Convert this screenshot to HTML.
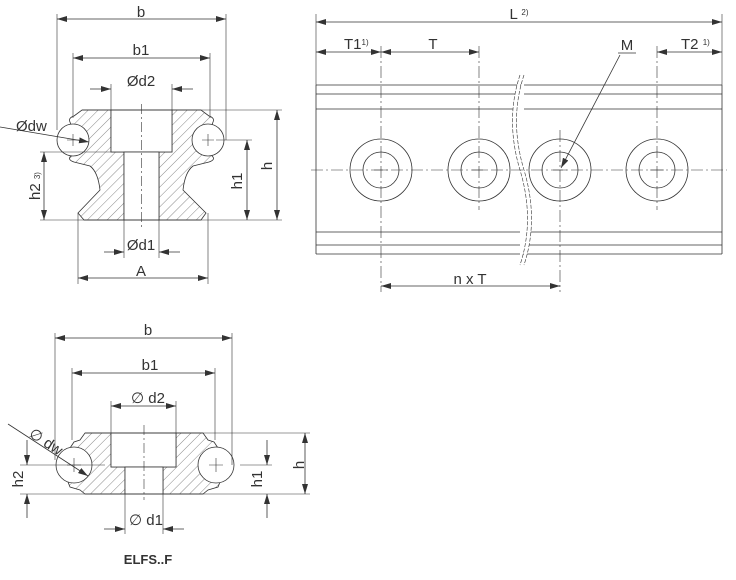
<!DOCTYPE html>
<html><head><meta charset="utf-8"><style>
html,body{margin:0;padding:0;background:#fff}
svg{display:block}
text{font-family:"Liberation Sans",sans-serif;fill:#333}
</style></head><body>
<svg width="736" height="580" viewBox="0 0 736 580" xmlns="http://www.w3.org/2000/svg">
<defs>
<pattern id="h" patternUnits="userSpaceOnUse" width="7" height="7" patternTransform="rotate(45)">
<line x1="0" y1="0" x2="0" y2="7" stroke="#555" stroke-width="0.7"/>
</pattern>
<marker id="a" viewBox="0 0 10 6" refX="10" refY="3" markerWidth="10" markerHeight="6" orient="auto-start-reverse" markerUnits="userSpaceOnUse">
<path d="M0,0 L10,3 L0,6 z" fill="#333"/>
</marker>
</defs>
<g stroke="#333" stroke-width="0.8" fill="none">
<path d="M82,110 L111,110 L111,152 L124,152 L124,220 L84,220 L78,213 L100,190 Q98,172 90,166 L74,162 Q68,160 70,157 L76,150 L72,128 L70,122 Q68,118 74,116 Z" fill="url(#h)"/>
<path d="M201,110 L172,110 L172,152 L159,152 L159,220 L201,220 L206,213 L183,190 Q185,172 193,166 L209,162 Q215,160 213,157 L207,150 L211,128 L213,122 Q215,118 209,116 Z" fill="url(#h)"/>
<rect x="111" y="110" width="61" height="42" fill="#fff"/>
<rect x="124" y="152" width="35" height="68" fill="#fff"/>
<line x1="82" y1="110" x2="201" y2="110"/>
<line x1="84" y1="220" x2="201" y2="220"/>
<circle cx="73" cy="140" r="16" fill="#fff"/>
<circle cx="208" cy="140" r="16" fill="#fff"/>
<path d="M67,140 h12 M73,134 v12 M202,140 h12 M208,134 v12" stroke-width="0.6"/>
<line x1="141.5" y1="104" x2="141.5" y2="228" stroke-dasharray="10,3,2,3" stroke-width="0.6"/>
<path d="M57,14 V130 M226,14 V140 M73,53 V118 M210,53 V118 M111,84 V110 M172,84 V110" stroke-width="0.6"/>
<line x1="57" y1="19" x2="226" y2="19" marker-start="url(#a)" marker-end="url(#a)"/>
<line x1="73" y1="58" x2="210" y2="58" marker-start="url(#a)" marker-end="url(#a)"/>
<line x1="90" y1="89" x2="111" y2="89" marker-end="url(#a)"/>
<line x1="193" y1="89" x2="172" y2="89" marker-end="url(#a)"/>
<path d="M201,110 H282 M216,140 H252 M40,152 H111 M201,220 H282 M40,220 H84" stroke-width="0.6"/>
<line x1="277" y1="110" x2="277" y2="220" marker-start="url(#a)" marker-end="url(#a)"/>
<line x1="247" y1="140" x2="247" y2="220" marker-start="url(#a)" marker-end="url(#a)"/>
<line x1="44" y1="152" x2="44" y2="220" marker-start="url(#a)" marker-end="url(#a)"/>
<path d="M124,220 V258 M159,220 V258 M78,213 V284 M208,213 V284" stroke-width="0.6"/>
<line x1="104" y1="252" x2="124" y2="252" marker-end="url(#a)"/>
<line x1="180" y1="252" x2="159" y2="252" marker-end="url(#a)"/>
<line x1="78" y1="278" x2="208" y2="278" marker-start="url(#a)" marker-end="url(#a)"/>
<line x1="0" y1="127" x2="89" y2="142" marker-end="url(#a)"/>

<path d="M316,85 H722 M316,94 H722 M316,109 H722 M316,232 H722 M316,245 H722 M316,254 H722 M316,85 V254 M722,85 V254"/>
<line x1="311" y1="170" x2="727" y2="170" stroke-dasharray="12,3,2,3" stroke-width="0.6"/>
<g>
<circle cx="381" cy="170" r="31"/><circle cx="381" cy="170" r="18"/>
<circle cx="479" cy="170" r="31"/><circle cx="479" cy="170" r="18"/>
<circle cx="560" cy="170" r="31"/><circle cx="560" cy="170" r="18"/>
<circle cx="657" cy="170" r="31"/><circle cx="657" cy="170" r="18"/>
</g>
<path d="M374,170 h14 M472,170 h14 M553,170 h14 M650,170 h14" stroke-width="0.6"/>
<g stroke-width="0.6" stroke-dasharray="12,3,2,3">
<line x1="381" y1="46" x2="381" y2="292"/>
<line x1="479" y1="46" x2="479" y2="210"/>
<line x1="560" y1="130" x2="560" y2="292"/>
<line x1="657" y1="46" x2="657" y2="210"/>
</g>
<path d="M316,14 V85 M722,14 V85" stroke-width="0.6"/>
<line x1="316" y1="22" x2="722" y2="22" marker-start="url(#a)" marker-end="url(#a)"/>
<line x1="316" y1="52" x2="381" y2="52" marker-start="url(#a)" marker-end="url(#a)"/>
<line x1="381" y1="52" x2="479" y2="52" marker-start="url(#a)" marker-end="url(#a)"/>
<line x1="657" y1="52" x2="722" y2="52" marker-start="url(#a)" marker-end="url(#a)"/>
<line x1="381" y1="286" x2="560" y2="286" marker-start="url(#a)" marker-end="url(#a)"/>
<path d="M618,53 H636" stroke-width="0.8"/>
<line x1="620" y1="55" x2="561" y2="168" marker-end="url(#a)"/>
<path d="M520,75 Q505,120 520,170 Q535,220 520,265 M524,75 Q509,120 524,170 Q539,220 524,265" stroke-width="0.6" stroke-dasharray="4,1.5" fill="#fff"/>

<path d="M85,433 L111,433 L111,467 L125,467 L125,494 L85,494 L80,490 L70,487 L68,482 L72,475 L72,456 L70,448 L74,442 L80,440 Z" fill="url(#h)"/>
<path d="M203,433 L176,433 L176,467 L163,467 L163,494 L203,494 L208,490 L218,487 L220,482 L216,475 L216,456 L218,448 L214,442 L208,440 Z" fill="url(#h)"/>
<rect x="111" y="433" width="65" height="34" fill="#fff"/>
<rect x="125" y="467" width="38" height="27" fill="#fff"/>
<line x1="85" y1="433" x2="203" y2="433"/>
<line x1="85" y1="494" x2="203" y2="494"/>
<circle cx="74" cy="465" r="18" fill="#fff"/>
<circle cx="216" cy="465" r="18" fill="#fff"/>
<path d="M67,465 h14 M74,458 v14 M209,465 h14 M216,458 v14" stroke-width="0.6"/>
<line x1="144" y1="425" x2="144" y2="500" stroke-dasharray="10,3,2,3" stroke-width="0.6"/>
<path d="M55,333 V460 M232,333 V465 M72,368 V440 M215,368 V440 M111,401 V433 M176,401 V433" stroke-width="0.6"/>
<line x1="55" y1="338" x2="232" y2="338" marker-start="url(#a)" marker-end="url(#a)"/>
<line x1="72" y1="373" x2="215" y2="373" marker-start="url(#a)" marker-end="url(#a)"/>
<line x1="111" y1="406" x2="176" y2="406" marker-start="url(#a)" marker-end="url(#a)"/>
<path d="M203,433 H310 M240,465 H272 M203,494 H310 M20,465 H105 M20,494 H85" stroke-width="0.6"/>
<line x1="305" y1="433" x2="305" y2="494" marker-start="url(#a)" marker-end="url(#a)"/>
<line x1="267" y1="440" x2="267" y2="465" marker-end="url(#a)"/>
<line x1="267" y1="518" x2="267" y2="494" marker-end="url(#a)"/>
<line x1="27" y1="440" x2="27" y2="465" marker-end="url(#a)"/>
<line x1="27" y1="518" x2="27" y2="494" marker-end="url(#a)"/>
<path d="M125,494 V534 M163,494 V534" stroke-width="0.6"/>
<line x1="104" y1="529" x2="125" y2="529" marker-end="url(#a)"/>
<line x1="184" y1="529" x2="163" y2="529" marker-end="url(#a)"/>
<line x1="8" y1="424" x2="88" y2="476" marker-end="url(#a)"/>
</g>

<g font-size="15">
<text x="141" y="17" text-anchor="middle">b</text>
<text x="141" y="55" text-anchor="middle">b1</text>
<text x="141" y="86" text-anchor="middle">Ød2</text>
<text x="16" y="131">Ødw</text>
<text x="141" y="250" text-anchor="middle">Ød1</text>
<text x="141" y="276" text-anchor="middle">A</text>
<text transform="translate(272,166) rotate(-90)" text-anchor="middle">h</text>
<text transform="translate(242,181) rotate(-90)" text-anchor="middle">h1</text>
<text transform="translate(40,186) rotate(-90)" text-anchor="middle">h2 <tspan font-size="8">3)</tspan></text>

<text x="519" y="19" text-anchor="middle">L <tspan font-size="8" dy="-4">2)</tspan></text>
<text x="344" y="49">T1<tspan font-size="8" dy="-4">1)</tspan></text>
<text x="433" y="49" text-anchor="middle">T</text>
<text x="627" y="50" text-anchor="middle">M</text>
<text x="681" y="49">T2 <tspan font-size="8" dy="-4">1)</tspan></text>
<text x="470" y="284" text-anchor="middle">n x T</text>

<text x="148" y="335" text-anchor="middle">b</text>
<text x="150" y="370" text-anchor="middle">b1</text>
<text x="148" y="403" text-anchor="middle">∅ d2</text>
<text transform="translate(28,436) rotate(33)">∅ dw</text>
<text x="146" y="525" text-anchor="middle">∅ d1</text>
<text transform="translate(304,465) rotate(-90)" text-anchor="middle">h</text>
<text transform="translate(262,479) rotate(-90)" text-anchor="middle">h1</text>
<text transform="translate(23,479) rotate(-90)" text-anchor="middle">h2</text>
<text x="148" y="564" text-anchor="middle" font-weight="bold" font-size="13">ELFS..F</text>
</g>
</svg>
</body></html>
